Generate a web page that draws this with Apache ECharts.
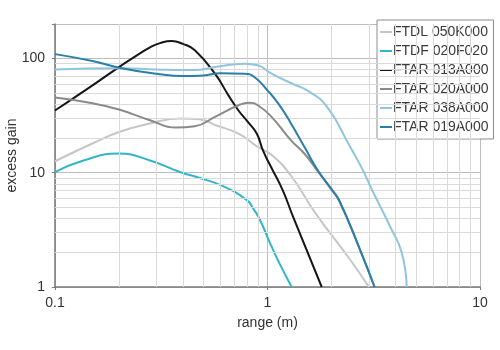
<!DOCTYPE html>
<html>
<head>
<meta charset="utf-8">
<script src="https://cdn.jsdelivr.net/npm/echarts@6/dist/echarts.min.js"></script>
<style>
  html, body { margin: 0; padding: 0; background: #ffffff; }
  #chart { width: 500px; height: 350px; }
</style>
</head>
<body>
<div id="chart"></div>
<script>
// Excess gain versus range for six sensor models (log-log)
const seriesNames = ['FTDL 050K000', 'FTDF 020F020', 'FTAR 013A000', 'FTAR 020A000', 'FTAR 038A000', 'FTAR 019A000'];
const seriesColors = ['#c6c6c6', '#30b6c7', '#161616', '#8a8a8a', '#92c5dd', '#2a7ea8'];

const rangeFTDL050K000 = [0.1, 0.15, 0.2, 0.28, 0.39, 0.48, 0.57, 0.73, 0.9, 1.05, 1.29, 1.7, 2.44, 3.0];
const gainFTDL050K000  = [12.6, 18, 22.7, 27, 29.8, 29.3, 26, 22, 16.8, 14.2, 9.4, 4.3, 1.75, 1];

const rangeFTDF020F020 = [0.1, 0.136, 0.2, 0.28, 0.39, 0.48, 0.62, 0.8, 0.86, 0.92, 1.03, 1.14, 1.3];
const gainFTDF020F020  = [10.1, 12.8, 14.7, 12.8, 10.1, 9.0, 7.6, 5.75, 4.8, 3.9, 2.4, 1.6, 1];

const rangeFTAR013A000 = [0.1, 0.146, 0.2, 0.25, 0.28, 0.312, 0.354, 0.4, 0.455, 0.566, 0.655, 0.73, 0.81, 0.89, 0.953, 1.045, 1.18, 1.32, 1.8];
const gainFTAR013A000  = [35, 56, 84, 110, 125, 136, 142, 134, 118, 73.5, 47.5, 35, 27.7, 22, 15.6, 11, 7, 4.1, 1];

const rangeFTAR020A000 = [0.1, 0.15, 0.2, 0.28, 0.37, 0.455, 0.566, 0.73, 0.82, 0.9, 1.045, 1.29, 1.5, 1.73, 2.0, 2.18, 2.73, 3.19];
const gainFTAR020A000  = [45.4, 40.5, 35.7, 28.8, 24.8, 25.5, 30.8, 38.9, 40.9, 38.9, 30.8, 19.2, 14.5, 10.2, 7.1, 5.6, 2.1, 1];

const rangeFTAR038A000 = [0.1, 0.2, 0.3, 0.4, 0.455, 0.566, 0.78, 0.9, 1.045, 1.31, 1.55, 1.9, 2.44, 2.82, 3.09, 3.77, 4.28, 4.52];
const gainFTAR038A000  = [80, 82, 80, 79, 79, 84, 90, 87, 73.5, 60, 52, 38, 17, 10.4, 7.2, 3.4, 2.0, 1];

const rangeFTAR019A000 = [0.1, 0.15, 0.2, 0.3, 0.4, 0.5, 0.6, 0.78, 0.87, 1.0, 1.127, 1.29, 1.5, 1.73, 2.0, 2.18, 2.73, 3.19];
const gainFTAR019A000  = [109, 95, 83, 73.5, 70, 71, 74, 73.5, 68.5, 52.5, 40, 27, 16.5, 10.4, 7.2, 5.7, 2.1, 1];

const rangeTicks = [0.1, 1, 10];
const gainTicks = [1, 10, 100];
const minorRangeLines = [0.2, 0.3, 0.4, 0.5, 0.6, 0.7, 0.8, 0.9, 2, 3, 4, 5, 6, 7, 8, 9];
const minorGainLines = [2, 3, 4, 5, 6, 7, 8, 9, 20, 30, 40, 50, 60, 70, 80, 90];

const curveRanges = [rangeFTDL050K000, rangeFTDF020F020, rangeFTAR013A000, rangeFTAR020A000, rangeFTAR038A000, rangeFTAR019A000];
const curveGains  = [gainFTDL050K000, gainFTDF020F020, gainFTAR013A000, gainFTAR020A000, gainFTAR038A000, gainFTAR019A000];

const FONT = '"Liberation Sans", Arial, sans-serif';
const nearest = (v, list) => list.some(t => Math.abs(Math.log10(v) - Math.log10(t)) < 1e-6);

const gridSeries = {
  name: '__grid',
  type: 'line',
  data: [],
  silent: true,
  z: 0,
  markLine: {
    silent: true,
    symbol: ['none', 'none'],
    label: { show: false },
    lineStyle: { color: '#dadada', width: 1, type: 'solid' },
    animation: false,
    data: minorRangeLines.map(v => ({ xAxis: v })).concat(minorGainLines.map(v => ({ yAxis: v })))
  }
};

const curveSeries = seriesNames.map((name, i) => ({
  name: name,
  type: 'line',
  data: curveRanges[i].map((x, k) => [x, curveGains[i][k]]),
  symbol: 'none',
  showSymbol: false,
  smooth: 0.5,
  lineStyle: { color: seriesColors[i], width: 2 },
  itemStyle: { color: seriesColors[i] },
  z: 3 + i
}));

const chart = echarts.init(document.getElementById('chart'), null, { renderer: 'canvas' });
chart.setOption({
  animation: false,
  backgroundColor: '#ffffff',
  textStyle: { fontFamily: FONT },
  grid: { left: 55, right: 20, top: 24, bottom: 63, containLabel: false, outerBoundsMode: 'none' },
  legend: {
    data: seriesNames,
    orient: 'vertical',
    left: 377,
    top: 20,
    padding: [5, 5, 5, 3],
    icon: 'rect',
    itemWidth: 12,
    itemHeight: 2,
    itemGap: 5,
    backgroundColor: '#ffffff',
    borderColor: '#8c8c8c',
    borderWidth: 1,
    borderRadius: 0,
    textStyle: { fontFamily: FONT, fontSize: 14, lineHeight: 14, color: '#3a3a3a', padding: [0, 0, 0, -4] }
  },
  xAxis: {
    type: 'log',
    logBase: 10,
    min: 0.1,
    max: 10,
    interval: 1,
    name: 'range (m)',
    nameLocation: 'middle',
    nameGap: 29,
    nameMoveOverlap: false,
    nameTextStyle: { fontFamily: FONT, fontSize: 14, color: '#333333' },
    axisLine: { show: true, onZero: false, lineStyle: { color: '#7a7a7a', width: 1.5 } },
    axisTick: { show: true, length: 3, lineStyle: { color: '#7a7a7a' } },
    axisLabel: {
      fontFamily: FONT, fontSize: 14, color: '#333333', margin: 9,
      formatter: v => (nearest(v, rangeTicks) ? (v < 1 ? '0.1' : String(Math.round(v))) : '')
    },
    splitLine: { show: true, lineStyle: { color: '#bdbdbd', width: 1 } }
  },
  yAxis: {
    type: 'log',
    logBase: 10,
    min: 1,
    max: 200,
    interval: 1,
    name: 'excess gain',
    nameLocation: 'middle',
    nameGap: 36,
    nameMoveOverlap: false,
    nameTextStyle: { fontFamily: FONT, fontSize: 14, color: '#333333' },
    axisLine: { show: true, onZero: false, lineStyle: { color: '#7a7a7a', width: 1.5 } },
    axisTick: { show: true, length: 3, lineStyle: { color: '#7a7a7a' } },
    axisLabel: {
      fontFamily: FONT, fontSize: 14, color: '#333333', margin: 10,
      formatter: v => (nearest(v, gainTicks) ? String(Math.round(v)) : '')
    },
    splitLine: { show: true, lineStyle: { color: '#bdbdbd', width: 1 } }
  },
  series: [gridSeries].concat(curveSeries)
});
</script>
</body>
</html>
